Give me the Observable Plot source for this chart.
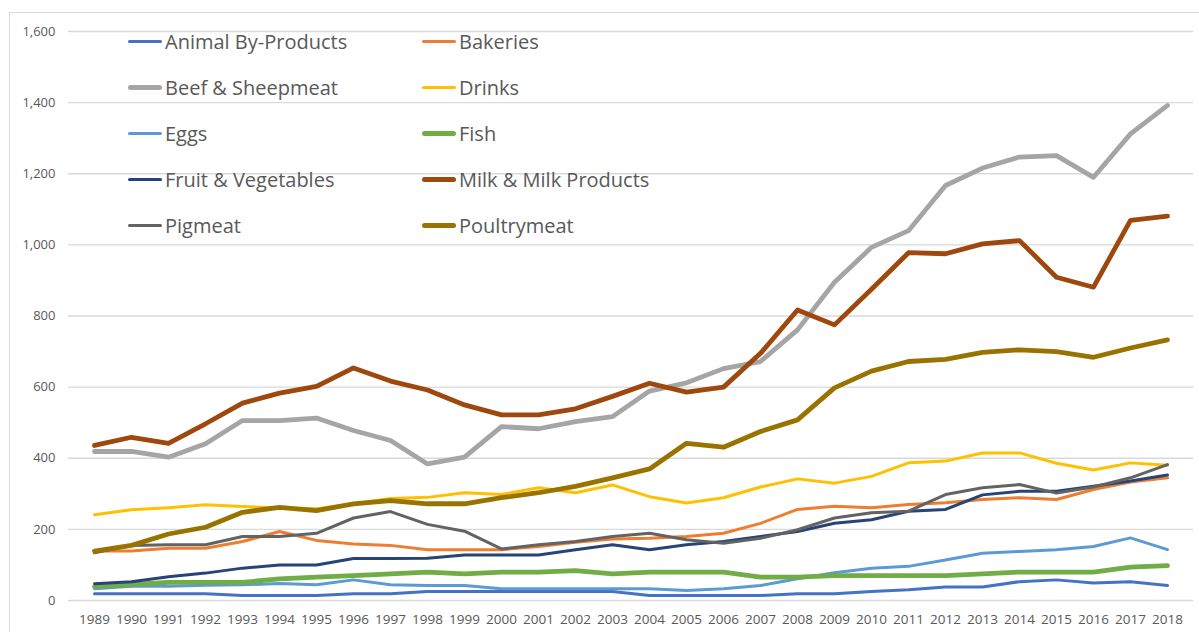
<!DOCTYPE html>
<html><head><meta charset="utf-8">
<script src="https://cdn.jsdelivr.net/npm/d3@7"></script>
<script src="https://cdn.jsdelivr.net/npm/@observablehq/plot@0.6"></script>
<style>
body{margin:0;background:#fff;font-family:"Open Sans","Liberation Sans",sans-serif;}
#wrap{position:relative;width:1199px;height:632px;overflow:hidden;}
#border{position:absolute;left:9px;top:12px;width:1400px;height:800px;border:1px solid #d9d9d9;}
#chart{position:absolute;left:0;top:0;}
.leg{position:absolute;display:flex;align-items:center;height:28px;font-size:20px;color:#595959;white-space:nowrap;}
.sw{width:34px;border-radius:3px;margin-right:3px;}
</style></head><body>
<div id="wrap"><div id="border"></div><div id="chart"></div><div id="legend"></div></div>
<script>
const years = [1989,1990,1991,1992,1993,1994,1995,1996,1997,1998,1999,2000,2001,2002,2003,2004,2005,2006,2007,2008,2009,2010,2011,2012,2013,2014,2015,2016,2017,2018];
const yTicks = [0,200,400,600,800,1000,1200,1400,1600];

const animalByProducts = [19,19,19,19,14,14,14,19,19,25,25,25,25,25,25,14,14,14,14,19,19,25,30,38,38,53,58,49,53,42];
const bakeries = [139,139,147,147,166,194,169,159,155,143,143,143,152,164,173,175,180,189,217,256,265,261,270,275,284,289,284,312,333,345];
const beefSheepmeat = [419,419,403,441,506,506,513,478,450,384,403,489,483,503,517,589,612,652,672,761,895,993,1040,1167,1216,1247,1251,1190,1312,1392];
const drinks = [241,255,261,269,264,261,258,272,287,290,303,298,317,303,325,292,274,289,319,342,330,349,387,392,415,415,386,367,387,380];
const eggs = [33,40,40,43,44,48,44,58,44,42,42,33,33,33,33,33,28,33,42,61,78,91,96,114,133,138,143,152,176,143];
const fish = [39,45,51,51,51,61,66,70,75,80,75,80,80,84,75,80,80,80,66,66,70,70,70,70,75,80,80,80,94,98];
const fruitVegetables = [47,53,67,77,91,100,100,118,118,119,128,128,128,143,157,143,157,166,180,194,217,227,251,256,297,307,307,321,336,353];
const milkProducts = [436,459,442,497,555,583,602,654,617,592,550,522,522,539,574,611,586,600,695,817,775,875,978,975,1003,1012,909,881,1069,1081];
const pigmeat = [134,155,157,157,180,180,189,232,250,214,195,145,157,166,180,189,171,161,175,199,232,247,251,298,317,326,302,319,345,382];
const poultrymeat = [139,155,187,206,248,262,253,272,281,272,272,289,303,321,345,370,442,431,475,508,598,645,672,678,698,705,700,684,710,733];

const seriesNames = ["Animal By-Products","Bakeries","Beef & Sheepmeat","Drinks","Eggs","Fish","Fruit & Vegetables","Milk & Milk Products","Pigmeat","Poultrymeat"];
const seriesValues = [animalByProducts,bakeries,beefSheepmeat,drinks,eggs,fish,fruitVegetables,milkProducts,pigmeat,poultrymeat];
const seriesColors = ["#4472C4","#ED7D31","#A5A5A5","#FFC000","#5B9BD5","#70AD47","#264478","#9E480E","#636363","#997300"];
const seriesWidths = [3,3,4.8,3,3,4.8,3,4.8,3,4.8];

const lineMarks = seriesNames.map((name, i) => {
  const data = years.map((year, j) => ({year, value: seriesValues[i][j]}));
  return Plot.line(data, {x: "year", y: "value", stroke: seriesColors[i], strokeWidth: seriesWidths[i], strokeLinejoin: "round", strokeLinecap: "round"});
});

const chart = Plot.plot({
  width: 1199, height: 632,
  marginLeft: 68, marginRight: 6, marginTop: 31, marginBottom: 32,
  style: {fontFamily: "'Open Sans', 'Liberation Sans', sans-serif", color: "#595959", background: "transparent", overflow: "visible"},
  x: {type: "point", domain: years, padding: 0.5, label: null},
  y: {domain: [0, 1600], label: null},
  marks: [
    Plot.gridY(yTicks, {stroke: "#d9d9d9", strokeOpacity: 1, strokeWidth: 1.3}),
    Plot.axisY(yTicks, {tickSize: 0, tickPadding: 13, fontSize: 13, tickFormat: d3.format(","), label: null}),
    Plot.axisX({tickSize: 0, tickPadding: 14, fontSize: 13.5, tickFormat: d => String(d), label: null}),
    ...lineMarks
  ]
});
document.getElementById("chart").appendChild(chart);

const legend = document.getElementById("legend");
const rowCenters = [41, 87, 133, 179, 225];
seriesNames.forEach((name, i) => {
  const col = i % 2, row = Math.floor(i / 2);
  const div = document.createElement("div");
  div.className = "leg";
  div.style.left = (col === 0 ? 128 : 422) + "px";
  div.style.top = (rowCenters[row] - 14) + "px";
  const sw = document.createElement("span");
  sw.className = "sw";
  sw.style.background = seriesColors[i];
  sw.style.height = (seriesWidths[i] > 4 ? 5 : 3) + "px";
  const t = document.createElement("span");
  t.textContent = name;
  div.appendChild(sw); div.appendChild(t);
  legend.appendChild(div);
});
</script>
</body></html>
